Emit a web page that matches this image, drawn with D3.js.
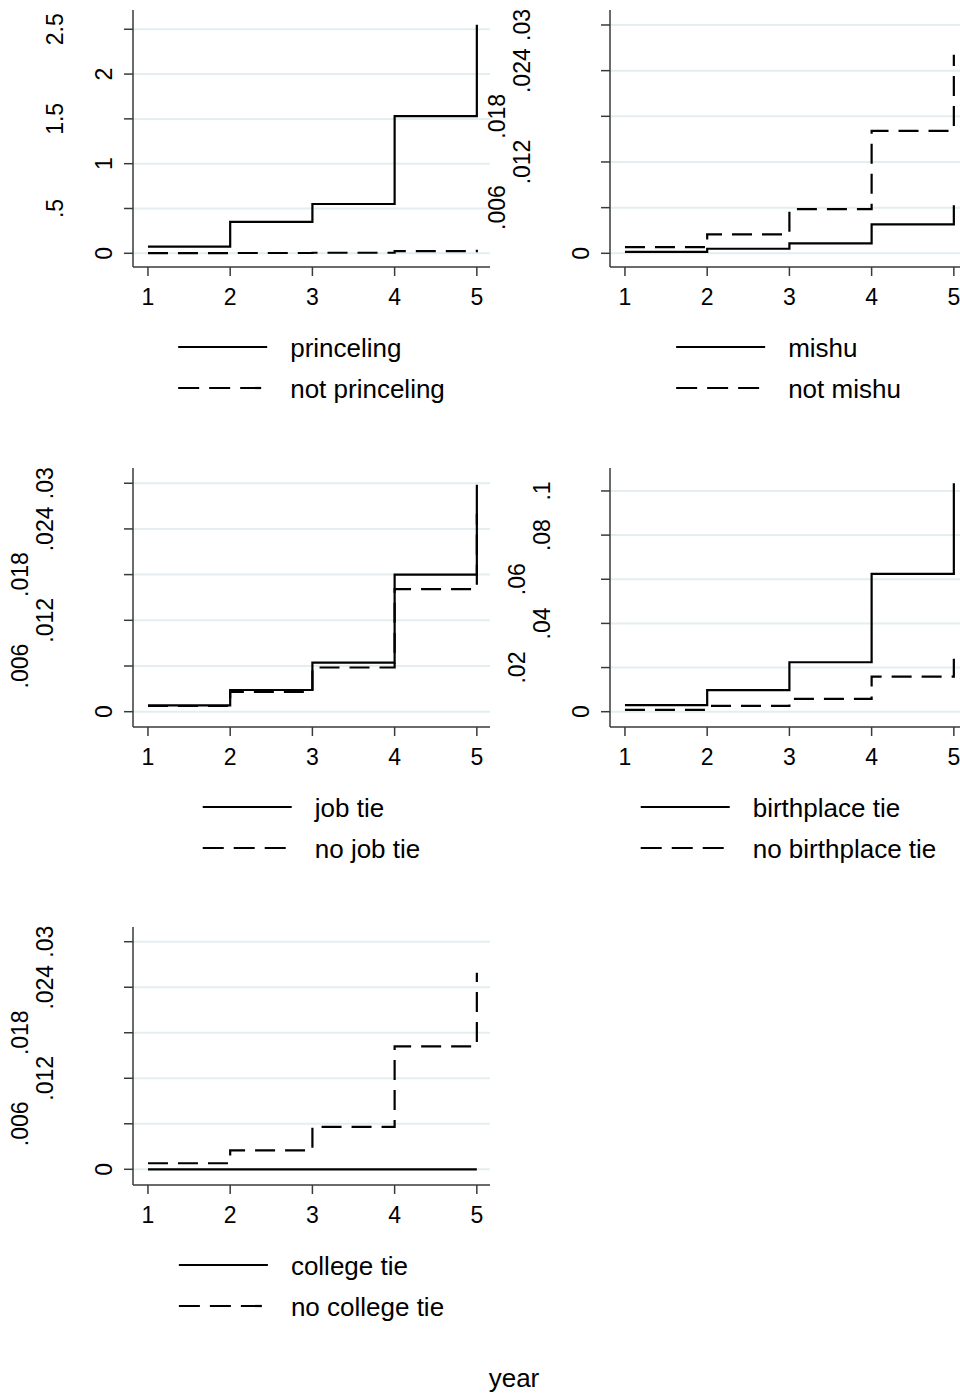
<!DOCTYPE html>
<html>
<head>
<meta charset="utf-8">
<script src="https://cdn.jsdelivr.net/npm/d3@7"></script>
<style>
  html, body { margin: 0; padding: 0; background: #fff; }
  svg { display: block; font-family: "Liberation Sans", Arial, sans-serif; }
</style>
</head>
<body>
<svg id="chart" width="960" height="1395"></svg>
<script>
// ---------------- data ----------------
const years = [1, 2, 3, 4, 5];
const xTickLabels = ["1", "2", "3", "4", "5"];

const princeling      = [0.074, 0.35, 0.55, 1.53, 2.55];
const notPrinceling   = [0.001, 0.003, 0.006, 0.025, 0.04];

const mishu           = [0.0002, 0.0006, 0.0013, 0.0038, 0.0063];
const notMishu        = [0.0008, 0.0025, 0.0058, 0.0161, 0.0261];

const jobTie          = [0.00084, 0.00285, 0.00644, 0.018, 0.0298];
const noJobTie        = [0.00075, 0.0026, 0.0058, 0.0161, 0.026];

const birthplaceTie   = [0.003, 0.0098, 0.0224, 0.0624, 0.1035];
const noBirthplaceTie = [0.0008, 0.0026, 0.0058, 0.0159, 0.0272];

const collegeTie      = [0, 0, 0, 0, 0];
const noCollegeTie    = [0.0008, 0.0025, 0.0056, 0.0162, 0.0259];

const yTicksA  = [0, 0.5, 1, 1.5, 2, 2.5];
const yLabelsA = ["0", ".5", "1", "1.5", "2", "2.5"];
const yTicksB  = [0, 0.006, 0.012, 0.018, 0.024, 0.03];
const yLabelsB = ["0", ".006", ".012", ".018", ".024", ".03"];
const yTicksC  = [0, 0.02, 0.04, 0.06, 0.08, 0.1];
const yLabelsC = ["0", ".02", ".04", ".06", ".08", ".1"];

const xTitle = "year";

// ---------------- layout ----------------
const colAxisX = [133, 610];
const plotW = 357;
const rowTop = [10, 468, 927];
const rowBottom = [267, 727, 1185];

const panels = [
  { col: 0, row: 0, series: [princeling, notPrinceling], names: ["princeling", "not princeling"],
    ticks: yTicksA, labels: yLabelsA, yDomain: [-0.153, 2.715], offs: [21, 70, 21, 70, 21, 70] },
  { col: 1, row: 0, series: [mishu, notMishu], names: ["mishu", "not mishu"],
    ticks: yTicksB, labels: yLabelsB, yDomain: [-0.0018, 0.03197], offs: [21, 105, 80, 105, 80, 80] },
  { col: 0, row: 1, series: [jobTie, noJobTie], names: ["job tie", "no job tie"],
    ticks: yTicksB, labels: yLabelsB, yDomain: [-0.00201, 0.0320], offs: [21, 105, 80, 105, 80, 80] },
  { col: 1, row: 1, series: [birthplaceTie, noBirthplaceTie], names: ["birthplace tie", "no birthplace tie"],
    ticks: yTicksC, labels: yLabelsC, yDomain: [-0.00693, 0.1104], offs: [21, 85, 60, 85, 60, 60] },
  { col: 0, row: 2, series: [collegeTie, noCollegeTie], names: ["college tie", "no college tie"],
    ticks: yTicksB, labels: yLabelsB, yDomain: [-0.00207, 0.03194], offs: [21, 105, 80, 105, 80, 80] }
];

const dashes = [null, "20,10"];
const svg = d3.select("#chart");

const axisColor = "#3a3a3a";
const gridColor = "#e4eef1";

panels.forEach(p => {
  const x0 = colAxisX[p.col], x1 = x0 + plotW;
  const top = rowTop[p.row], bottom = rowBottom[p.row];
  const x = d3.scaleLinear().domain([0.818, 5.16]).range([x0, x1]);
  const y = d3.scaleLinear().domain(p.yDomain).range([bottom, top]);
  const g = svg.append("g");

  // gridlines
  g.selectAll("line.grid").data(p.ticks).join("line")
    .attr("class", "grid")
    .attr("x1", x0).attr("x2", x1)
    .attr("y1", d => y(d)).attr("y2", d => y(d))
    .attr("stroke", gridColor).attr("stroke-width", 2);

  // step lines
  const line = d3.line().x((d, i) => x(years[i])).y(d => y(d)).curve(d3.curveStepAfter);
  p.series.forEach((s, k) => {
    g.append("path").attr("d", line(s))
      .attr("fill", "none").attr("stroke", "#000").attr("stroke-width", 2.2)
      .attr("stroke-dasharray", dashes[k]);
  });

  // left axis
  g.append("line").attr("x1", x0).attr("x2", x0).attr("y1", top).attr("y2", bottom)
    .attr("stroke", axisColor).attr("stroke-width", 1.5);
  g.selectAll("line.yt").data(p.ticks).join("line")
    .attr("class", "yt")
    .attr("x1", x0 - 9).attr("x2", x0)
    .attr("y1", d => y(d)).attr("y2", d => y(d))
    .attr("stroke", axisColor).attr("stroke-width", 1.5);
  g.selectAll("text.yl").data(p.ticks).join("text")
    .attr("class", "yl")
    .attr("transform", (d, i) => `translate(${x0 - p.offs[i]},${y(d)}) rotate(-90)`)
    .attr("text-anchor", "middle")
    .attr("font-size", 23)
    .attr("fill", "#000")
    .text((d, i) => p.labels[i]);

  // bottom axis
  g.append("line").attr("x1", x0).attr("x2", x1).attr("y1", bottom).attr("y2", bottom)
    .attr("stroke", axisColor).attr("stroke-width", 1.5);
  g.selectAll("line.xt").data(years).join("line")
    .attr("class", "xt")
    .attr("x1", d => x(d)).attr("x2", d => x(d))
    .attr("y1", bottom).attr("y2", bottom + 9)
    .attr("stroke", axisColor).attr("stroke-width", 1.5);
  g.selectAll("text.xl").data(years).join("text")
    .attr("class", "xl")
    .attr("x", d => x(d)).attr("y", bottom + 38)
    .attr("text-anchor", "middle")
    .attr("font-size", 23)
    .attr("fill", "#000")
    .text((d, i) => xTickLabels[i]);

  // legend
  const leg = g.append("g");
  const texts = p.names.map((n, k) => leg.append("text")
    .attr("font-size", 26).attr("fill", "#000").text(n));
  const maxW = d3.max(texts, t => t.node().getComputedTextLength());
  const lineLen = 89, gap = 23;
  const blockW = lineLen + gap + maxW;
  const lx = (x0 + x1) / 2 - blockW / 2;
  p.names.forEach((n, k) => {
    const ly = bottom + 80 + k * 41;
    leg.append("line").attr("x1", lx).attr("x2", lx + lineLen)
      .attr("y1", ly).attr("y2", ly)
      .attr("stroke", "#000").attr("stroke-width", 2.2)
      .attr("stroke-dasharray", k === 1 ? "21,10" : null);
    texts[k].attr("x", lx + lineLen + gap).attr("y", ly + 9.5);
  });
});

// x title
svg.append("text").attr("x", 514).attr("y", 1387)
  .attr("text-anchor", "middle").attr("font-size", 26).attr("fill", "#000")
  .text(xTitle);
</script>
</body>
</html>
